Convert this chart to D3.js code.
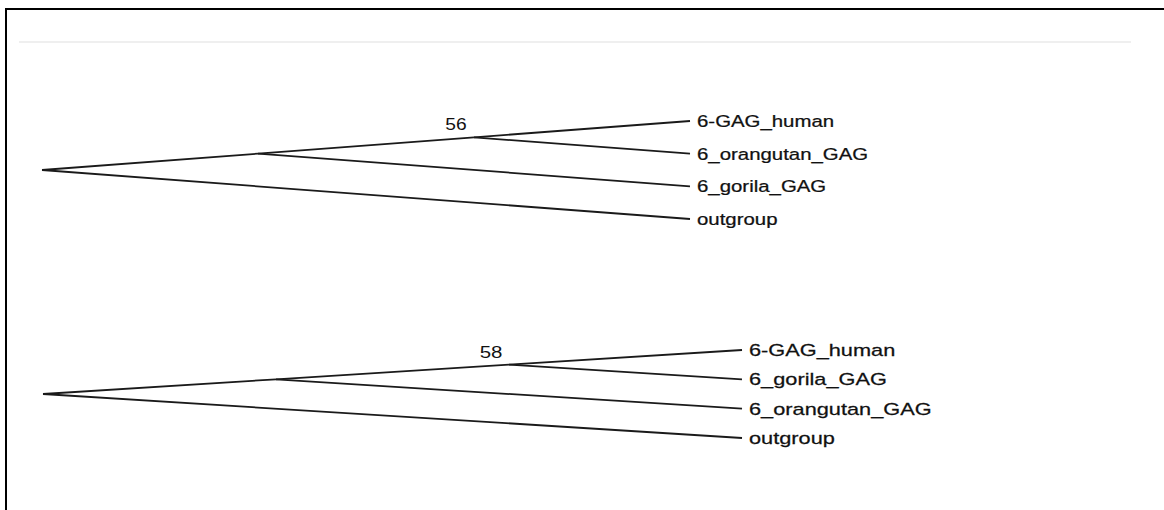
<!DOCTYPE html>
<html>
<head>
<meta charset="utf-8">
<script src="https://cdn.jsdelivr.net/npm/d3@7"></script>
<style>
  html, body { margin: 0; padding: 0; background: #fff; }
  svg { display: block; }
  .branch { fill: none; stroke: #1a1a1a; stroke-width: 1.8; }
  .leaf-label { font-family: Arial, "Liberation Sans", sans-serif; font-size: 17px; fill: #111; stroke: #111; stroke-width: 0.25; }
  .support { font-family: Arial, "Liberation Sans", sans-serif; font-size: 16px; fill: #111; }
</style>
</head>
<body>
<svg id="chart" width="1164" height="510"></svg>
<script>
// two cladograms of the same four taxa, newick with bootstrap support
const tree1Newick = "(((6-GAG_human,6_orangutan_GAG)56,6_gorila_GAG),outgroup);";
const tree2Newick = "(((6-GAG_human,6_gorila_GAG)58,6_orangutan_GAG),outgroup);";
const tree1Taxa = ["6-GAG_human", "6_orangutan_GAG", "6_gorila_GAG", "outgroup"];
const tree2Taxa = ["6-GAG_human", "6_gorila_GAG", "6_orangutan_GAG", "outgroup"];

let svg = d3.select('#chart'),
    width = +svg.attr("width"),
    height = +svg.attr("height");

// frame (top + left edge) and the pale rule under it
svg.append("path")
    .attr("d", "M6," + height + "V9H" + width)
    .attr("fill", "none").attr("stroke", "#000").attr("stroke-width", 2);
svg.append("line")
    .attr("x1", 19).attr("x2", 1131).attr("y1", 42).attr("y2", 42)
    .attr("stroke", "#efefef").attr("stroke-width", 2);

function parseNewick(s) {
    let i = 0;
    function node() {
        let n = {};
        if (s[i] === "(") {
            n.children = [];
            i++;
            n.children.push(node());
            while (s[i] === ",") { i++; n.children.push(node()); }
            i++; // ')'
        }
        let name = "";
        while (i < s.length && !",();".includes(s[i])) name += s[i++];
        if (n.children) { if (name) n.support = +name; }
        else n.name = name;
        return n;
    }
    return node();
}

function drawTree(newick, taxa, box) {
    let root = d3.hierarchy(parseNewick(newick));

    let x = d3.scaleLinear().domain([0, root.height]).range([box.x0, box.x1]);
    let y = d3.scalePoint().domain(taxa).range([box.y0, box.y1]);

    // slanted cladogram: x by node height, y midway between outer leaves
    root.eachAfter(d => {
        d.px = x(root.height - d.height);
        if (!d.children) d.py = y(d.data.name);
        else {
            let ls = d.leaves().map(l => l.py);
            d.py = (d3.min(ls) + d3.max(ls)) / 2;
        }
    });

    let g = svg.append("g");

    g.selectAll("line.branch")
        .data(root.links())
        .enter().append("line")
        .attr("class", "branch")
        .attr("x1", d => d.source.px).attr("y1", d => d.source.py)
        .attr("x2", d => d.target.px).attr("y2", d => d.target.py);

    g.selectAll("text.leaf-label")
        .data(root.leaves())
        .enter().append("text")
        .attr("class", "leaf-label")
        .attr("transform", d => "translate(" + (d.px + 7) + "," + (d.py + 6) + ") scale(" + box.stretch + ",1)")
        .text(d => d.data.name);

    g.selectAll("text.support")
        .data(root.descendants().filter(d => d.data.support != null))
        .enter().append("text")
        .attr("class", "support")
        .attr("text-anchor", "middle")
        .attr("transform", d => "translate(" + (d.px - 18) + "," + (d.py - 7) + ") scale(" + box.stretch + ",1)")
        .text(d => d.data.support);
}

drawTree(tree1Newick, tree1Taxa, {x0: 42, x1: 690, y0: 121, y1: 219, stretch: 1.2});
drawTree(tree2Newick, tree2Taxa, {x0: 43, x1: 742, y0: 350, y1: 438, stretch: 1.28});
</script>
</body>
</html>
